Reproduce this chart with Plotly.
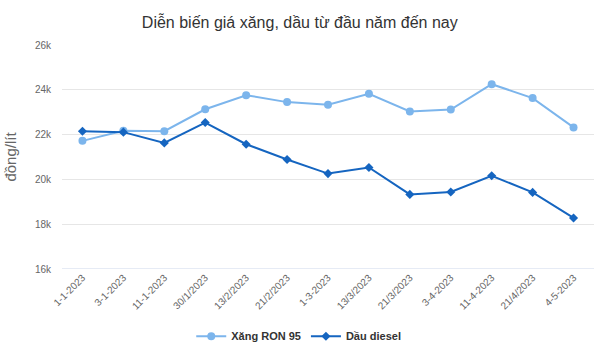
import plotly.graph_objects as go

dates = ["1-1-2023", "3-1-2023", "11-1-2023", "30/1/2023", "13/2/2023", "21/2/2023",
         "1-3-2023", "13/3/2023", "21/3/2023", "3-4-2023", "11-4-2023", "21/4/2023", "4-5-2023"]
ron95 = [21720, 22170, 22150, 23130, 23760, 23450, 23330, 23820, 23030, 23120, 24250, 23630, 22320]
diesel = [22150, 22110, 21630, 22540, 21570, 20890, 20260, 20530, 19330, 19440, 20160, 19420, 18280]

fig = go.Figure()
fig.add_trace(go.Scatter(x=dates, y=ron95, name="Xăng RON 95", mode="lines+markers",
                         line=dict(color="#7cb5ec", width=2),
                         marker=dict(symbol="circle", size=8, color="#7cb5ec")))
fig.add_trace(go.Scatter(x=dates, y=diesel, name="Dầu diesel", mode="lines+markers",
                         line=dict(color="#1565c0", width=2),
                         marker=dict(symbol="diamond", size=7, color="#1565c0")))

fig.update_layout(
    width=596, height=353,
    margin=dict(l=62, r=2, t=45, b=84),
    paper_bgcolor="white", plot_bgcolor="white",
    font=dict(family="Liberation Sans, Arial, sans-serif", color="#666666"),
    title=dict(text="Diễn biến giá xăng, dầu từ đầu năm đến nay", x=0.503, xanchor="center",
               y=0.937, yanchor="middle", font=dict(size=16, color="#333333")),
    xaxis=dict(type="category", tickangle=-45, tickfont=dict(size=10, color="#666666"),
               showgrid=False, showline=False, ticks="", range=[-0.5, 12.5]),
    yaxis=dict(range=[16000, 26000], tickvals=[16000, 18000, 20000, 22000, 24000, 26000],
               ticktext=["16k", "18k", "20k", "22k", "24k", "26k"],
               tickfont=dict(size=10, color="#666666"), gridcolor="#e6e6e6", gridwidth=1,
               zeroline=False, ticklabelstandoff=10,
               title=dict(text="đồng/lít", font=dict(size=15, color="#666666"), standoff=14)),
    legend=dict(orientation="h", x=0.445, xanchor="center", y=-0.3, yanchor="middle",
                font=dict(size=11, color="#333333", weight="bold"), itemwidth=30),
    showlegend=True,
)
fig.add_shape(type="line", xref="paper", yref="y", x0=0, x1=1, y0=16000, y1=16000,
              line=dict(color="#ccd6eb", width=1), layer="below")

fig.write_html("out.html")
